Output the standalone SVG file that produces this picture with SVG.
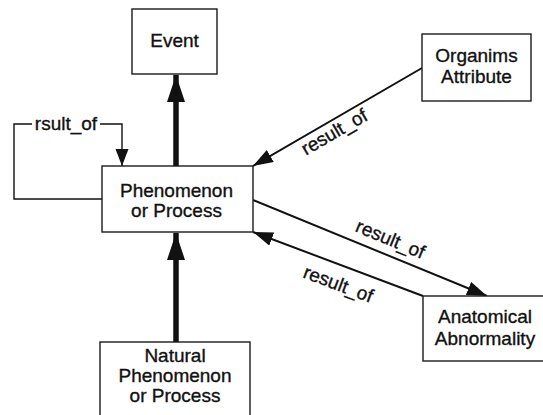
<svg xmlns="http://www.w3.org/2000/svg" width="543" height="415" viewBox="0 0 543 415">
  <style>
    .box { fill: #ffffff; stroke: #1a1a1a; stroke-width: 1.4; }
    .label { font-family: "Liberation Sans", Arial, sans-serif; font-size: 19px; fill: #111; stroke: #111; stroke-width: 0.35; text-anchor: middle; }
    .edge { fill: none; stroke: #111; stroke-width: 2; }
    .thin { fill: none; stroke: #111; stroke-width: 1.4; }
    .thick { fill: none; stroke: #111; stroke-width: 5.5; }
  </style>
  <defs>
    <marker id="head" markerUnits="userSpaceOnUse" markerWidth="22" markerHeight="16" refX="20" refY="7" orient="auto">
      <path d="M0,0 L20,7 L0,14 z" fill="#111"/>
    </marker>
    <marker id="headSmall" markerUnits="userSpaceOnUse" markerWidth="19" markerHeight="15" refX="17" refY="6.5" orient="auto">
      <path d="M0,0 L17,6.5 L0,13 z" fill="#111"/>
    </marker>
    <marker id="headBig" markerUnits="userSpaceOnUse" markerWidth="30" markerHeight="20" refX="27" refY="9" orient="auto">
      <path d="M0,0 L27,9 L0,18 z" fill="#111"/>
    </marker>
  </defs>

  <rect width="543" height="415" fill="#ffffff"/>

  <!-- connectors -->
  <g id="connectors">
    <!-- self loop: Phenomenon or Process -> itself -->
    <path class="thin" d="M102,199 H14 V124 H32"/>
    <path class="thin" d="M100,124 H122 V166" marker-end="url(#headSmall)"/>
    <text class="label" x="66" y="130">rsult_of</text>

    <!-- Phenomenon or Process -> Event -->
    <path class="thick" d="M176,166 V75" marker-end="url(#headBig)"/>

    <!-- Natural Phenomenon or Process -> Phenomenon or Process -->
    <path class="thick" d="M176,342 V233" marker-end="url(#headBig)"/>

    <!-- Organims Attribute -> Phenomenon or Process -->
    <path class="edge" d="M422,68 L253,166" marker-end="url(#head)"/>
    <text class="label" transform="translate(337.5,137.5) rotate(-30)">result_of</text>

    <!-- Phenomenon or Process -> Anatomical Abnormality -->
    <path class="edge" d="M253,200 L487,296" marker-end="url(#head)"/>
    <text class="label" transform="translate(388,245) rotate(22.5)">result_of</text>

    <!-- Anatomical Abnormality -> Phenomenon or Process -->
    <path class="edge" d="M423,296 L253,232" marker-end="url(#head)"/>
    <text class="label" transform="translate(336,290) rotate(20.6)">result_of</text>
  </g>

  <!-- nodes -->
  <g id="event">
    <rect class="box" x="132" y="9" width="85" height="65"/>
    <text class="label" x="174.5" y="47">Event</text>
  </g>

  <g id="phenomenon">
    <rect class="box" x="102" y="166" width="151" height="66"/>
    <text class="label" x="176.5" y="197">Phenomenon</text>
    <text class="label" x="176.5" y="217">or Process</text>
  </g>

  <g id="organims-attribute">
    <rect class="box" x="422" y="34" width="109" height="67"/>
    <text class="label" x="476.5" y="62">Organims</text>
    <text class="label" x="476.5" y="83">Attribute</text>
  </g>

  <g id="anatomical-abnormality">
    <rect class="box" x="423" y="296" width="125" height="65"/>
    <text class="label" x="485" y="323">Anatomical</text>
    <text class="label" x="485" y="345">Abnormality</text>
  </g>

  <g id="natural-phenomenon">
    <rect class="box" x="100" y="342" width="150" height="85"/>
    <text class="label" x="175" y="362">Natural</text>
    <text class="label" x="175" y="382">Phenomenon</text>
    <text class="label" x="175" y="402">or Process</text>
  </g>
</svg>
